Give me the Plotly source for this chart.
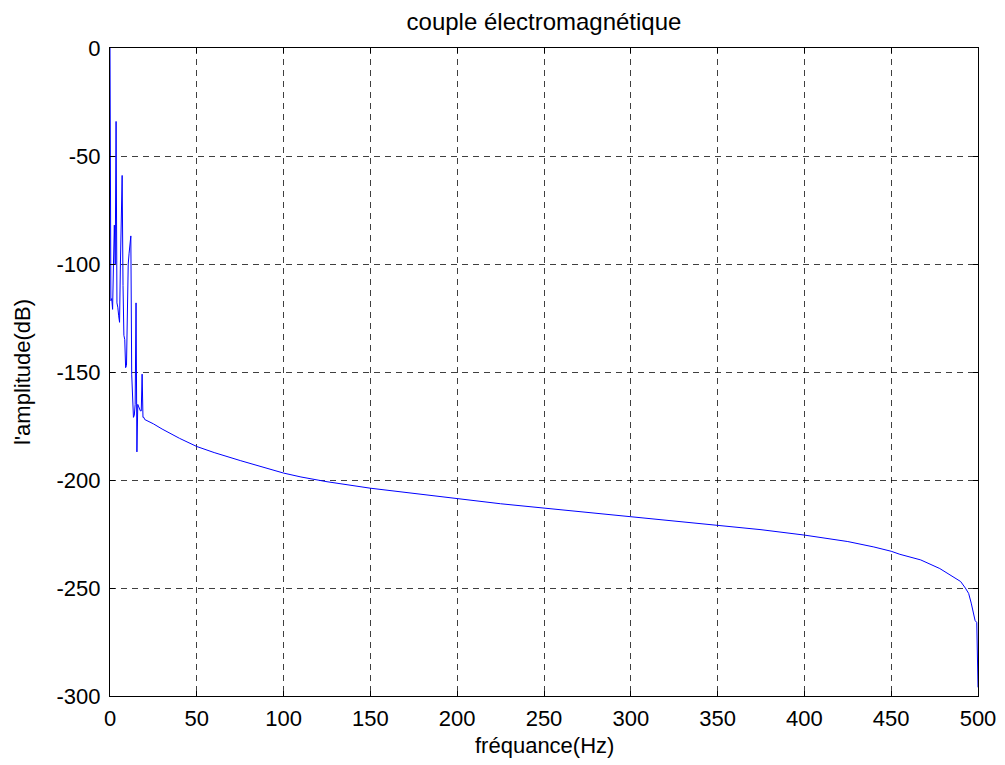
import plotly.graph_objects as go

# Spectrum values (frequency in Hz, amplitude in dB)
freq_low = [0, 0.5, 1.0, 1.5, 2.0, 2.5, 3.0, 3.5, 4.0, 4.5, 5.0, 5.5, 6.0, 6.5, 7.0,
            7.5, 8.0, 8.5, 9.0, 9.5, 10.0, 10.5, 11.0, 11.5, 12.0, 12.5, 13.0, 13.5,
            14.0, 14.5, 15.0, 15.5, 16.0, 16.5, 17.0, 17.5, 18.0, 18.5, 19.0, 19.5]
amp_low = [0, -117, -116, -121, -100, -82, -100, -34, -118, -120, -124, -127, -100, -85, -59,
           -110, -133, -135, -148, -147, -120, -100, -95, -90, -87, -151, -168, -171,
           -170, -165, -118, -187, -165, -166, -167, -168, -168, -151, -171, -171]

freq_high = [20, 25, 30, 40, 50, 60, 75, 90, 100, 110, 125, 150, 175, 200, 225, 250, 275,
             300, 325, 350, 375, 400, 425, 440, 450, 455, 467, 478, 484, 490, 492.7, 494.6,
             496.1, 497.4, 498.3, 499.3, 499.7, 500]
amp_high = [-172, -174, -176.4, -180.7, -184.5, -187.3, -191, -194.6, -196.8, -198.6, -200.8,
            -203.8, -206.2, -208.5, -211, -213, -215, -217, -219, -221, -223, -225.5, -228.5,
            -231, -233, -234.4, -237, -241, -244, -247, -250, -252.5, -257, -261, -265, -266,
            -279, -296]

freq = freq_low + freq_high
amp = amp_low + amp_high

x_ticks = [0, 50, 100, 150, 200, 250, 300, 350, 400, 450, 500]
y_ticks = [-300, -250, -200, -150, -100, -50, 0]
x_ticktext = [str(v) for v in x_ticks]
y_ticktext = [str(v) for v in y_ticks]

title_text = "couple électromagnétique"
x_label = "fréquance(Hz)"
y_label = "l'amplitude(dB)"

FONT = "Liberation Sans, Arial, Helvetica, sans-serif"
FS = 22

fig = go.Figure()
fig.add_trace(go.Scatter(x=freq, y=amp, mode="lines",
                         line=dict(color="#0000ff", width=1), showlegend=False,
                         hoverinfo="x+y"))

axis_common = dict(
    showline=True, linecolor="black", linewidth=1, mirror="ticks",
    ticks="inside", ticklen=5, tickcolor="black", tickwidth=1,
    showgrid=True, gridcolor="rgba(0,0,0,0.75)", gridwidth=1, griddash="6px,5px",
    zeroline=False, tickfont=dict(family=FONT, size=FS, color="black"),
    automargin=False,
)

fig.update_layout(
    width=1005, height=765,
    margin=dict(l=110, r=27, t=48, b=69, autoexpand=False),
    paper_bgcolor="white", plot_bgcolor="white",
    font=dict(family=FONT, size=FS, color="black"),
    title=dict(text=title_text, x=0.5413, xanchor="center", y=1 - 22 / 765,
               yanchor="middle", yref="container",
               font=dict(family=FONT, size=24, color="black")),
    xaxis=dict(range=[0, 500], tickvals=x_ticks, ticktext=x_ticktext,
               ticklabelstandoff=3, **axis_common),
    yaxis=dict(range=[-300, 0], tickvals=y_ticks, ticktext=y_ticktext,
               ticklabelstandoff=4, **axis_common),
    annotations=[
        dict(text=x_label, xref="paper", yref="paper", x=0.5, y=-50 / 648,
             xanchor="center", yanchor="middle", showarrow=False,
             font=dict(family=FONT, size=FS, color="black")),
        dict(text=y_label, xref="paper", yref="paper", x=-88 / 868, y=0.5,
             xanchor="center", yanchor="middle", showarrow=False, textangle=-90,
             font=dict(family=FONT, size=FS, color="black")),
    ],
)

fig.write_html("out.html")
